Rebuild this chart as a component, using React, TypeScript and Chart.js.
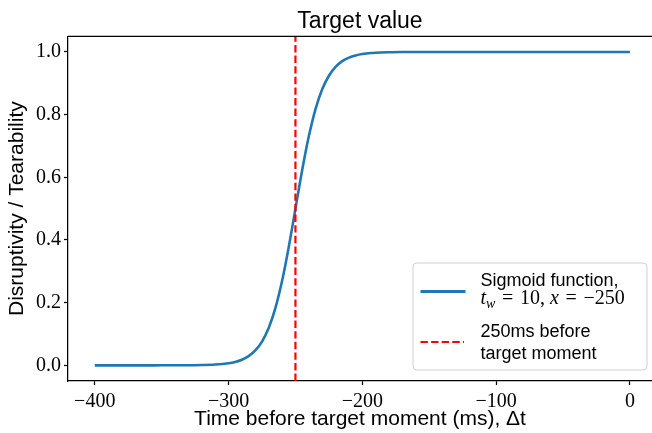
import { useEffect, useRef } from "react";
import { Chart, registerables } from "chart.js";

Chart.register(...registerables);

// Sigmoid curve (time in ms, value 0..1)
const timeMs = [-400, -380, -360, -350, -340, -330, -320, -310, -300, -295, -290, -285, -280, -275, -270, -265, -260, -257.5, -255, -252.5, -250, -247.5, -245, -242.5, -240, -235, -230, -225, -220, -215, -210, -205, -200, -190, -180, -170, -150, -100, -50, 0];
const sigmoidValues = [0, 0, 0, 0.00005, 0.00012, 0.00034, 0.00091, 0.00247, 0.00669, 0.01099, 0.01799, 0.02931, 0.04743, 0.07586, 0.1192, 0.1824, 0.2689, 0.3208, 0.3775, 0.4378, 0.5, 0.5622, 0.6225, 0.6792, 0.7311, 0.8176, 0.8808, 0.9241, 0.9526, 0.9707, 0.982, 0.989, 0.9933, 0.9975, 0.9991, 0.9997, 1, 1, 1, 1];

// Vertical marker: 250 ms before target moment
const markerTime = -250;
const markerSpan = [-0.05, 1.05];

const xTicks = [-400, -300, -200, -100, 0];
const yTicks = [0, 0.2, 0.4, 0.6, 0.8, 1.0];

const titleText = "Target value";
const xLabel = "Time before target moment (ms), \u0394t";
const yLabel = "Disruptivity / Tearability";
const legendLine1 = ["Sigmoid function,"];
const legendLine2 = ["250ms before", "target moment"];

const BLUE = "#1f77b4";
const RED = "#ff0000";
const SANS = "'Liberation Sans', Arial, sans-serif";
const SERIF = "'Liberation Serif', 'Times New Roman', serif";

const fmtMinus = (v: number, digits: number) => {
  const s = digits > 0 ? v.toFixed(digits) : String(Math.round(v));
  return s.replace("-", "\u2212");
};

const topSpinePlugin = {
  id: "topSpine",
  afterDraw(chart: any) {
    const { ctx, chartArea } = chart;
    ctx.save();
    ctx.strokeStyle = "#000";
    ctx.lineWidth = 1.25;
    ctx.beginPath();
    ctx.moveTo(chartArea.left, chartArea.top);
    ctx.lineTo(chartArea.right + 2, chartArea.top);
    ctx.stroke();
    ctx.restore();
  },
};

const legendPlugin = {
  id: "customLegend",
  afterDraw(chart: any) {
    const { ctx, chartArea } = chart;
    const w = 234;
    const h = 107;
    const right = chartArea.right - 5;
    const bottom = chartArea.bottom - 11;
    const left = right - w;
    const top = bottom - h;
    ctx.save();
    const r = 4;
    ctx.beginPath();
    ctx.moveTo(left + r, top);
    ctx.lineTo(right - r, top);
    ctx.arcTo(right, top, right, top + r, r);
    ctx.lineTo(right, bottom - r);
    ctx.arcTo(right, bottom, right - r, bottom, r);
    ctx.lineTo(left + r, bottom);
    ctx.arcTo(left, bottom, left, bottom - r, r);
    ctx.lineTo(left, top + r);
    ctx.arcTo(left, top, left + r, top, r);
    ctx.closePath();
    ctx.fillStyle = "rgba(255,255,255,0.85)";
    ctx.fill();
    ctx.strokeStyle = "#d0d0d0";
    ctx.lineWidth = 1;
    ctx.stroke();

    // blue sample
    ctx.strokeStyle = BLUE;
    ctx.lineWidth = 3;
    ctx.beginPath();
    ctx.moveTo(left + 7.5, top + 28.5);
    ctx.lineTo(left + 52.5, top + 28.5);
    ctx.stroke();

    // red dashed sample
    ctx.strokeStyle = RED;
    ctx.lineWidth = 2.2;
    ctx.setLineDash([7.4, 3.2]);
    ctx.beginPath();
    ctx.moveTo(left + 7.5, top + 79);
    ctx.lineTo(left + 51, top + 79);
    ctx.stroke();
    ctx.setLineDash([]);

    const tx = left + 67.5;
    ctx.fillStyle = "#000";
    ctx.textBaseline = "alphabetic";
    ctx.textAlign = "left";
    ctx.font = `18px ${SANS}`;
    ctx.fillText(legendLine1[0], tx, top + 23);

    // math line: t_w = 10, x = −250
    let x = tx;
    const by = top + 40.5;
    const part = (text: string, font: string, dy = 0) => {
      ctx.font = font;
      ctx.fillText(text, x, by + dy);
      x += ctx.measureText(text).width;
    };
    part("t", `italic 20px ${SERIF}`);
    part("w", `italic 14px ${SERIF}`, 4);
    part("\u2004=\u2004", `20px ${SERIF}`);
    part("10,", `20px ${SERIF}`);
    part(" ", `20px ${SERIF}`);
    part("x", `italic 20px ${SERIF}`);
    part("\u2004=\u2004", `20px ${SERIF}`);
    part("\u2212250", `20px ${SERIF}`);

    ctx.font = `18px ${SANS}`;
    ctx.fillText(legendLine2[0], tx, top + 73.5);
    ctx.fillText(legendLine2[1], tx, top + 95.5);
    ctx.restore();
  },
};

export default function App() {
  const ref = useRef<HTMLCanvasElement>(null);

  useEffect(() => {
    document.body.style.margin = "0";
    const canvas = ref.current;
    if (!canvas) return;
    const curve = timeMs.map((t, i) => ({ x: t, y: sigmoidValues[i] }));
    const marker = markerSpan.map((y) => ({ x: markerTime, y }));

    const chart = new Chart(canvas, {
      type: "line",
      data: {
        datasets: [
          {
            label: "Sigmoid function",
            data: curve,
            borderColor: BLUE,
            borderWidth: 2.6,
            pointRadius: 0,
            cubicInterpolationMode: "monotone",
            fill: false,
            order: 1,
          },
          {
            label: "250ms before target moment",
            data: marker,
            borderColor: RED,
            borderWidth: 2.2,
            borderDash: [7.4, 3.2],
            pointRadius: 0,
            fill: false,
            order: 0,
          },
        ],
      },
      options: {
        responsive: false,
        animation: false,
        devicePixelRatio: 1,
        layout: { padding: 0 },
        plugins: {
          legend: { display: false },
          tooltip: { enabled: false },
          title: {
            display: true,
            text: titleText,
            fullSize: false,
            color: "#000",
            font: { family: SANS, size: 23, weight: "normal", lineHeight: 1.2 },
            padding: { top: 7.7, bottom: 1 },
          },
        },
        scales: {
          x: {
            type: "linear",
            min: -420,
            max: 16.5,
            afterBuildTicks: (scale: any) => {
              scale.ticks = xTicks.map((v) => ({ value: v }));
            },
            afterFit: (scale: any) => {
              scale.height = 52;
            },
            grid: {
              drawOnChartArea: false,
              drawTicks: true,
              tickLength: 4,
              tickColor: "#000",
              tickWidth: 1.25,
            },
            border: { display: true, color: "#000", width: 1.25 },
            ticks: {
              color: "#000",
              font: { family: SERIF, size: 20 },
              padding: 5,
              maxRotation: 0,
              autoSkip: false,
              callback: (v: any) => fmtMinus(Number(v), 0),
            },
            title: {
              display: true,
              text: xLabel,
              color: "#000",
              font: { family: SANS, size: 21, lineHeight: 1.2 },
              padding: { top: 0, bottom: 1 },
            },
          },
          y: {
            type: "linear",
            min: -0.05,
            max: 1.05,
            afterBuildTicks: (scale: any) => {
              scale.ticks = yTicks.map((v) => ({ value: v }));
            },
            afterFit: (scale: any) => {
              scale.width = 68;
            },
            grid: {
              drawOnChartArea: false,
              drawTicks: true,
              tickLength: 4,
              tickColor: "#000",
              tickWidth: 1.25,
            },
            border: { display: true, color: "#000", width: 1.25 },
            ticks: {
              color: "#000",
              font: { family: SERIF, size: 20 },
              padding: 3,
              autoSkip: false,
              callback: (v: any) => fmtMinus(Number(v), 1),
            },
            title: {
              display: true,
              text: yLabel,
              color: "#000",
              font: { family: SANS, size: 21, lineHeight: 1.2 },
              padding: { top: 5, bottom: 0 },
            },
          },
        },
      },
      plugins: [topSpinePlugin, legendPlugin],
    } as any);

    return () => chart.destroy();
  }, []);

  return (
    <div style={{ position: "fixed", left: 0, top: 0, width: 652, height: 433, background: "#fff" }}>
      <canvas ref={ref} width={652} height={433} style={{ display: "block" }} />
    </div>
  );
}
